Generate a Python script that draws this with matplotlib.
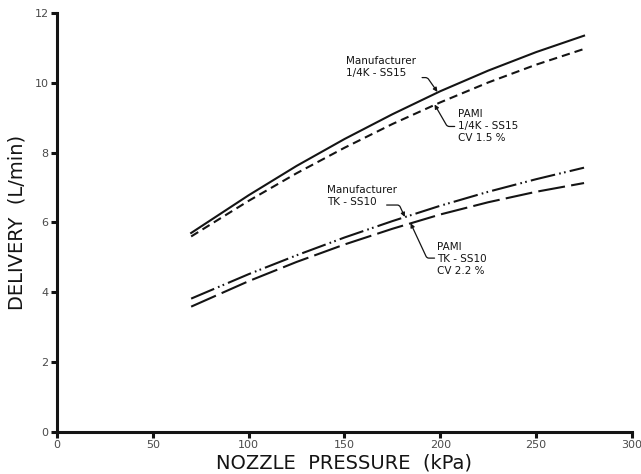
"""Nozzle delivery vs pressure: manufacturer figures against PAMI measurements."""

import matplotlib
matplotlib.use("Agg")
import matplotlib.pyplot as plt

# nozzle pressure (kPa) at which the curves are read
pressure = [70, 100, 125, 150, 175, 200, 225, 250, 275]

# delivery (L/min)
mfr_ss15 = [5.70, 6.78, 7.62, 8.39, 9.10, 9.76, 10.35, 10.88, 11.35]
pami_ss15 = [5.60, 6.62, 7.41, 8.14, 8.82, 9.44, 10.01, 10.52, 10.97]
mfr_ss10 = [3.82, 4.52, 5.06, 5.57, 6.04, 6.48, 6.88, 7.24, 7.57]
pami_ss10 = [3.59, 4.32, 4.87, 5.37, 5.82, 6.23, 6.58, 6.88, 7.13]

xticks = [0, 50, 100, 150, 200, 250, 300]
yticks = [0, 2, 4, 6, 8, 10, 12]

INK = "#141414"
LAB = "#4a4a4a"


def main():
    fig = plt.figure(figsize=(6.41, 4.74), dpi=100)
    ax = fig.add_axes([0.0889, 0.0886, 0.897, 0.884])

    ax.plot(pressure, mfr_ss15, color=INK, lw=1.5, ls="-")
    ax.plot(pressure, pami_ss15, color=INK, lw=1.5, ls=(0, (4, 2.4)))
    ax.plot(pressure, mfr_ss10, color=INK, lw=1.5, ls=(0, (12, 2, 0.8, 1.6, 0.8, 2)))
    ax.plot(pressure, pami_ss10, color=INK, lw=1.5, ls=(0, (13, 3)))

    ax.set_xlim(0, 300)
    ax.set_ylim(0, 12)
    ax.set_xticks(xticks)
    ax.set_yticks(yticks)
    for s in ("top", "right"):
        ax.spines[s].set_visible(False)
    for s in ("left", "bottom"):
        ax.spines[s].set_linewidth(2.2)
        ax.spines[s].set_color(INK)
    ax.tick_params(axis="both", direction="out", length=4, width=2.2,
                   color=INK, labelsize=8, labelcolor=LAB, pad=2)

    ax.set_xlabel("NOZZLE  PRESSURE  (kPa)", fontsize=14, color=INK, labelpad=2)
    ax.set_ylabel("DELIVERY  (L/min)", fontsize=14, color=INK, labelpad=6)

    txt = dict(fontsize=7.5, color=INK, linespacing=1.25)
    arr = dict(arrowstyle="-|>", color=INK, lw=0.9, mutation_scale=6, shrinkA=0, shrinkB=0)

    # leader labels: text anchor (data) and the point on the curve they point at
    ax.annotate("Manufacturer\n1/4K - SS15", xy=(198.5, 9.74), xytext=(151, 10.45),
                ha="left", va="center", **txt)
    ax.annotate("", xy=(198.5, 9.74), xytext=(190.5, 10.15),
                arrowprops=dict(connectionstyle="angle,angleA=0,angleB=125,rad=2", **arr))

    ax.annotate("PAMI\n1/4K - SS15\nCV 1.5 %", xy=(197, 9.38), xytext=(209, 8.75),
                ha="left", va="center", **txt)
    ax.annotate("", xy=(197, 9.38), xytext=(207.5, 8.75),
                arrowprops=dict(connectionstyle="angle,angleA=180,angleB=-60,rad=2", **arr))

    ax.annotate("Manufacturer\nTK - SS10", xy=(181.5, 6.16), xytext=(141, 6.75),
                ha="left", va="center", **txt)
    ax.annotate("", xy=(181.5, 6.16), xytext=(172, 6.5),
                arrowprops=dict(connectionstyle="angle,angleA=0,angleB=115,rad=2", **arr))

    ax.annotate("PAMI\nTK - SS10\nCV 2.2 %", xy=(184.5, 5.98), xytext=(198.5, 4.95),
                ha="left", va="center", **txt)
    ax.annotate("", xy=(184.5, 5.98), xytext=(197, 4.98),
                arrowprops=dict(connectionstyle="angle,angleA=180,angleB=-65,rad=2", **arr))

    fig.savefig("out.png", dpi=100)


if __name__ == "__main__":
    main()
